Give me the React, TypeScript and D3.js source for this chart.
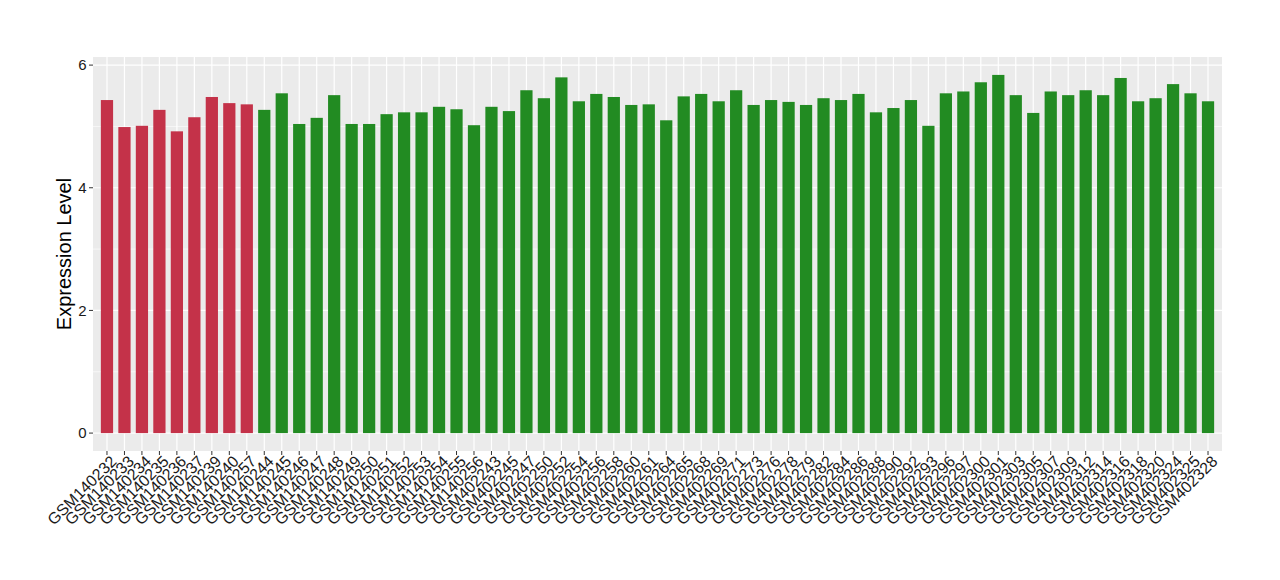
import React from 'react';
import * as d3 from 'd3';

// sample ids, in plot order
const samples = [
  'GSM140232', 'GSM140233', 'GSM140234', 'GSM140235', 'GSM140236', 'GSM140237', 'GSM140239', 'GSM140240', 'GSM140257',
  'GSM140244', 'GSM140245', 'GSM140246', 'GSM140247', 'GSM140248', 'GSM140249', 'GSM140250', 'GSM140251', 'GSM140252',
  'GSM140253', 'GSM140254', 'GSM140255', 'GSM140256',
  'GSM402243', 'GSM402245', 'GSM402247', 'GSM402250', 'GSM402252', 'GSM402254', 'GSM402256', 'GSM402258', 'GSM402260',
  'GSM402261', 'GSM402264', 'GSM402265', 'GSM402268', 'GSM402269', 'GSM402271', 'GSM402273', 'GSM402276', 'GSM402278',
  'GSM402279', 'GSM402282', 'GSM402284', 'GSM402286', 'GSM402288', 'GSM402290', 'GSM402292', 'GSM402293', 'GSM402296',
  'GSM402297', 'GSM402300', 'GSM402301', 'GSM402303', 'GSM402305', 'GSM402307', 'GSM402309', 'GSM402312', 'GSM402314',
  'GSM402316', 'GSM402318', 'GSM402320', 'GSM402324', 'GSM402325', 'GSM402328',
];

const expression = [
  5.43, 4.99, 5.01, 5.27, 4.92, 5.15, 5.48, 5.38, 5.36,
  5.27, 5.54, 5.04, 5.14, 5.51, 5.04, 5.04, 5.2, 5.23,
  5.23, 5.32, 5.28, 5.02,
  5.32, 5.25, 5.59, 5.46, 5.8, 5.41, 5.53, 5.48, 5.35,
  5.36, 5.1, 5.49, 5.53, 5.41, 5.59, 5.35, 5.43, 5.4,
  5.35, 5.46, 5.43, 5.53, 5.23, 5.3, 5.43, 5.01, 5.54,
  5.57, 5.72, 5.84, 5.51, 5.22, 5.57, 5.51, 5.59, 5.51,
  5.79, 5.41, 5.46, 5.69, 5.54, 5.41,
];

// first 9 samples belong to the red group
const groups = samples.map((_, i) => (i < 9 ? 'a' : 'b'));
const groupColors = { a: '#C43249', b: '#228B22' };

const yTicks = [0, 2, 4, 6];
const yMinor = [1, 3, 5];

const W = 1280;
const H = 580;
const left = 93;
const right = 1222;
const top = 57;
const bottom = 451;
const font = '"Liberation Sans", Arial, Helvetica, sans-serif';

export default function App() {
  const x = d3
    .scaleBand()
    .domain(samples)
    .range([left, right])
    .paddingInner(0.3)
    .paddingOuter(0.45);

  const maxV = d3.max(expression);
  const pad = maxV * 0.05;
  const y = d3.scaleLinear().domain([-pad, maxV + pad]).range([bottom, top]);

  const cx = (s) => x(s) + x.bandwidth() / 2;

  return (
    <svg width={W} height={H} style={{ position: 'absolute', left: 0, top: 0 }} fontFamily={font}>
      <rect x={left} y={top} width={right - left} height={bottom - top} fill="#EBEBEB" />
      {yMinor.map((t) => (
        <line key={'m' + t} x1={left} x2={right} y1={y(t)} y2={y(t)} stroke="#fff" strokeWidth={0.6} />
      ))}
      {yTicks.map((t) => (
        <line key={'g' + t} x1={left} x2={right} y1={y(t)} y2={y(t)} stroke="#fff" strokeWidth={1.2} />
      ))}
      {samples.map((s) => (
        <line key={'v' + s} x1={cx(s)} x2={cx(s)} y1={top} y2={bottom} stroke="#fff" strokeWidth={1.2} />
      ))}
      {samples.map((s, i) => (
        <rect
          key={'b' + s}
          x={x(s)}
          y={y(expression[i])}
          width={x.bandwidth()}
          height={y(0) - y(expression[i])}
          fill={groupColors[groups[i]]}
        />
      ))}
      {yTicks.map((t) => (
        <g key={'t' + t}>
          <line x1={left - 4} x2={left} y1={y(t)} y2={y(t)} stroke="#333" strokeWidth={1} />
          <text x={left - 6.5} y={y(t)} dy="0.36em" textAnchor="end" fontSize={15} fill="#1a1a1a">
            {t}
          </text>
        </g>
      ))}
      {samples.map((s) => (
        <g key={'x' + s}>
          <line x1={cx(s)} x2={cx(s)} y1={bottom} y2={bottom + 4} stroke="#333" strokeWidth={1} />
          <text
            transform={`translate(${cx(s) + 2},${bottom + 3}) rotate(-45)`}
            dy="0.75em"
            textAnchor="end"
            fontSize={16}
            fill="#1a1a1a"
          >
            {s}
          </text>
        </g>
      ))}
      <text
        transform={`translate(71,${(top + bottom) / 2}) rotate(-90)`}
        textAnchor="middle"
        fontSize={20}
        fill="#000"
      >
        Expression Level
      </text>
    </svg>
  );
}
